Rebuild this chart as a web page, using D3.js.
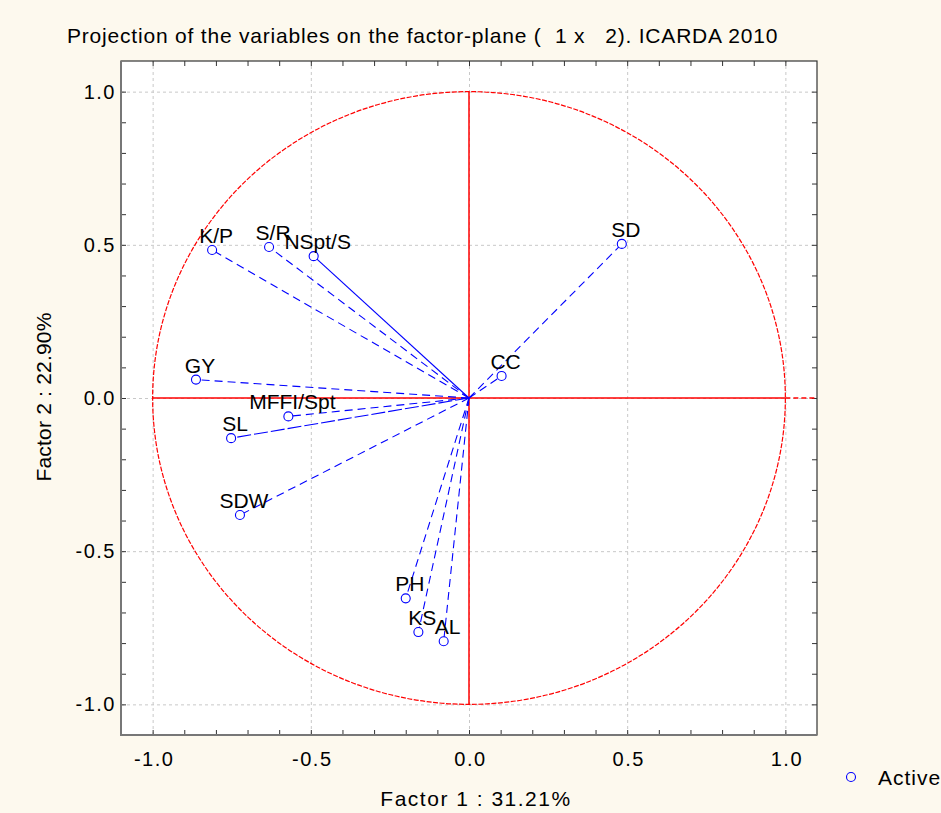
<!DOCTYPE html>
<meta charset="utf-8">
<style>
body {
  margin: 0;
  padding: 0;
  background: #fdf9ee;
}
svg {
  font-family: "Liberation Sans", Arial, sans-serif;
  display: block;
}
.tick text {
  font-size: 20px;
  letter-spacing: 1.5px;
  fill: #000;
}
.grid line {
  stroke: #c8c8c8;
  stroke-dasharray: 3,3;
}
.grid path, .minor path, .labels path {
  display: none;
}
.minor line {
  stroke: #333;
}
.vlabel {
  font-size: 21px;
  fill: #000;
}
</style>
<body>
<div id="chart"></div>
<script src="https://d3js.org/d3.v7.min.js"></script>
<script>

// variable names and their coordinates on factor 1 / factor 2
var variables = ["K/P", "S/R", "NSpt/S", "GY", "MFFI/Spt", "SL", "SDW", "PH", "KS", "AL", "CC", "SD"];
var factor1 = [-0.812, -0.632, -0.491, -0.863, -0.571, -0.752, -0.724, -0.200, -0.160, -0.080, 0.103, 0.483];
var factor2 = [0.483, 0.493, 0.463, 0.060, -0.060, -0.131, -0.382, -0.654, -0.764, -0.794, 0.072, 0.503];

var majorTicks = [-1.0, -0.5, 0.0, 0.5, 1.0];
var minorTicks = [-1.0, -0.9, -0.8, -0.7, -0.6, -0.5, -0.4, -0.3, -0.2, -0.1, 0.0,
                  0.1, 0.2, 0.3, 0.4, 0.5, 0.6, 0.7, 0.8, 0.9, 1.0];

var title = "Projection of the variables on the factor-plane (  1 x   2). ICARDA 2010";
var xTitle = "Factor 1 : 31.21%";
var yTitle = "Factor 2 : 22.90%";
var legendLabel = "Active";

var W = 941, H = 813;
var margin = {top: 61, right: 124, bottom: 78, left: 121};

var x = d3.scaleLinear().domain([-1.1, 1.1]).range([margin.left, W - margin.right]);
var y = d3.scaleLinear().domain([-1.1, 1.1]).range([H - margin.bottom, margin.top]);

var svg = d3.select("#chart").append("svg")
  .attr("width", W)
  .attr("height", H);

svg.append("rect")
  .attr("width", W).attr("height", H)
  .attr("fill", "#fdf9ee");

svg.append("rect")
  .attr("x", x(-1.1)).attr("y", y(1.1))
  .attr("width", x(1.1) - x(-1.1)).attr("height", y(-1.1) - y(1.1))
  .attr("fill", "#fff");

var fmt = function (d) { return d.toFixed(1); };
var plotW = x(1.1) - x(-1.1), plotH = y(-1.1) - y(1.1);

// grid
svg.append("g").attr("class", "grid")
  .attr("transform", "translate(0," + y(-1.1) + ")")
  .call(d3.axisBottom(x).tickValues(majorTicks).tickSize(-plotH).tickFormat(""));
svg.append("g").attr("class", "grid")
  .attr("transform", "translate(" + x(-1.1) + ",0)")
  .call(d3.axisLeft(y).tickValues(majorTicks).tickSize(-plotW).tickFormat(""));

// inward minor ticks on all four sides
svg.append("g").attr("class", "minor")
  .attr("transform", "translate(0," + y(-1.1) + ")")
  .call(d3.axisTop(x).tickValues(minorTicks).tickSize(5).tickFormat(""));
svg.append("g").attr("class", "minor")
  .attr("transform", "translate(0," + y(1.1) + ")")
  .call(d3.axisBottom(x).tickValues(minorTicks).tickSize(5).tickFormat(""));
svg.append("g").attr("class", "minor")
  .attr("transform", "translate(" + x(-1.1) + ",0)")
  .call(d3.axisRight(y).tickValues(minorTicks).tickSize(5).tickFormat(""));
svg.append("g").attr("class", "minor")
  .attr("transform", "translate(" + x(1.1) + ",0)")
  .call(d3.axisLeft(y).tickValues(minorTicks).tickSize(5).tickFormat(""));

// tick labels
svg.append("g").attr("class", "labels")
  .attr("transform", "translate(0," + y(-1.1) + ")")
  .call(d3.axisBottom(x).tickValues(majorTicks).tickSize(0).tickPadding(17).tickFormat(fmt))
  .selectAll("text").attr("dx", "1px");
svg.append("g").attr("class", "labels")
  .attr("transform", "translate(" + x(-1.1) + ",0)")
  .call(d3.axisLeft(y).tickValues(majorTicks).tickSize(0).tickPadding(5).tickFormat(fmt));
svg.selectAll(".labels line").remove();

// frame: left and bottom edges heavier, as in the original
svg.append("rect")
  .attr("x", x(-1.1)).attr("y", y(1.1))
  .attr("width", plotW).attr("height", plotH)
  .attr("fill", "none")
  .attr("stroke", "#333")
  .attr("stroke-width", 1.2);
svg.append("path")
  .attr("d", "M" + x(-1.1) + "," + y(1.1) + "V" + y(-1.1) + "H" + x(1.1))
  .attr("fill", "none")
  .attr("stroke", "#777")
  .attr("stroke-width", 2);

// correlation circle and red axes
svg.append("ellipse")
  .attr("cx", x(0)).attr("cy", y(0))
  .attr("rx", x(1) - x(0)).attr("ry", y(0) - y(1))
  .attr("fill", "none")
  .attr("stroke", "#ff0000")
  .attr("stroke-width", 1.2)
  .attr("stroke-dasharray", "5,1.5");

svg.append("line")
  .attr("x1", x(-1)).attr("x2", x(1))
  .attr("y1", y(0)).attr("y2", y(0))
  .attr("stroke", "#ff0000").attr("stroke-width", 1.5);
svg.append("line")
  .attr("x1", x(1)).attr("x2", x(1.1))
  .attr("y1", y(0)).attr("y2", y(0))
  .attr("stroke", "#ff0000").attr("stroke-width", 1.5)
  .attr("stroke-dasharray", "5,3");
svg.append("line")
  .attr("x1", x(0)).attr("x2", x(0))
  .attr("y1", y(1)).attr("y2", y(-1))
  .attr("stroke", "#ff0000").attr("stroke-width", 1.5);

// vectors
var data = variables.map(function (v, i) {
  return {name: v, f1: factor1[i], f2: factor2[i]};
});

var solid = {"NSpt/S": true};
var longDash = {"SL": true};

svg.append("g").selectAll("line")
  .data(data)
  .enter().append("line")
    .attr("x1", x(0)).attr("y1", y(0))
    .attr("x2", function (d) { return x(d.f1); })
    .attr("y2", function (d) { return y(d.f2); })
    .attr("stroke", "#0000ff")
    .attr("stroke-width", 1.1)
    .attr("stroke-dasharray", function (d) {
      return solid[d.name] ? null : longDash[d.name] ? "14,3" : "8,5";
    });

svg.append("g").selectAll("circle")
  .data(data)
  .enter().append("circle")
    .attr("cx", function (d) { return x(d.f1); })
    .attr("cy", function (d) { return y(d.f2); })
    .attr("r", 4.5)
    .attr("fill", "#fff")
    .attr("stroke", "#0000ff")
    .attr("stroke-width", 1.1);

svg.append("g").selectAll("text")
  .data(data)
  .enter().append("text")
    .attr("class", "vlabel")
    .attr("text-anchor", "middle")
    .attr("x", function (d) { return x(d.f1) + 4; })
    .attr("y", function (d) { return y(d.f2) - 7; })
    .text(function (d) { return d.name; });

// titles
svg.append("text")
  .attr("x", 67).attr("y", 43)
  .attr("font-size", "21px")
  .attr("letter-spacing", "0.8px")
  .attr("fill", "#000")
  .style("white-space", "pre")
  .text(title);

svg.append("text")
  .attr("x", 476).attr("y", 806)
  .attr("text-anchor", "middle")
  .attr("font-size", "21px")
  .attr("letter-spacing", "1.5px")
  .attr("fill", "#000")
  .text(xTitle);

svg.append("text")
  .attr("transform", "translate(51,397) rotate(-90)")
  .attr("text-anchor", "middle")
  .attr("font-size", "21px")
  .attr("letter-spacing", "0.2px")
  .attr("fill", "#000")
  .text(yTitle);

// legend
svg.append("circle")
  .attr("cx", 851).attr("cy", 777).attr("r", 4.5)
  .attr("fill", "none").attr("stroke", "#0000ff").attr("stroke-width", 1.1);
svg.append("text")
  .attr("x", 878).attr("y", 785)
  .attr("font-size", "21px")
  .attr("letter-spacing", "1px")
  .attr("fill", "#000")
  .text(legendLabel);

</script>
</body>
